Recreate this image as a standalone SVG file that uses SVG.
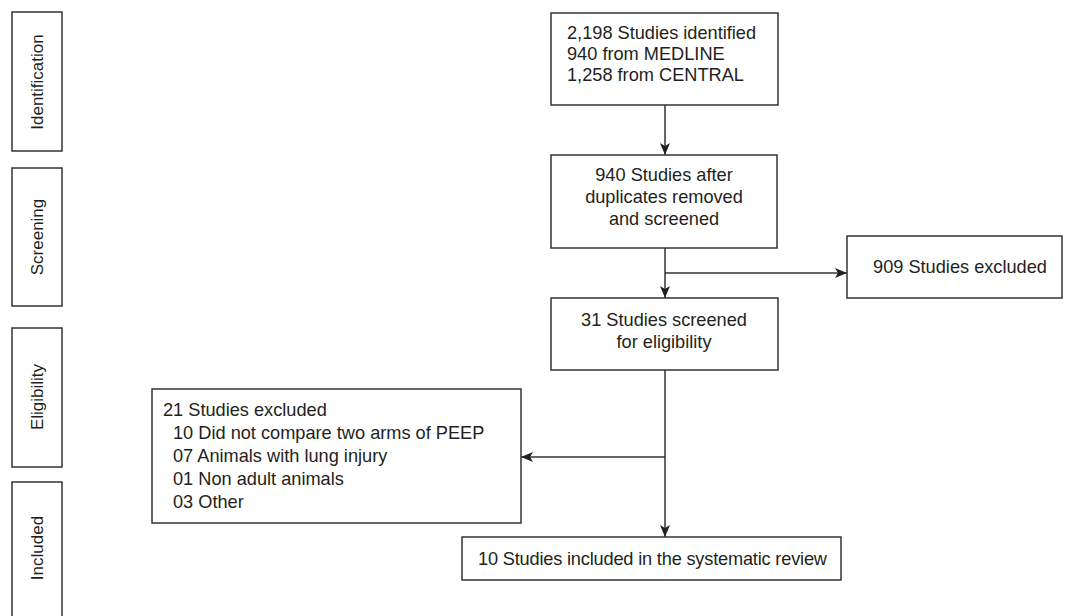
<svg xmlns="http://www.w3.org/2000/svg" width="1066" height="616" viewBox="0 0 1066 616">
<defs>
<style>
.box{fill:#fff;stroke:#333;stroke-width:1.5}
.t{font-family:"Liberation Sans",Arial,sans-serif;font-size:18.2px;fill:#231f20}
.s{font-family:"Liberation Sans",Arial,sans-serif;font-size:17px;fill:#231f20}
.c{text-anchor:middle}
.ln{fill:none;stroke:#333;stroke-width:1.5}
</style>
<marker id="ah" viewBox="0 0 12 10" refX="12" refY="5" markerWidth="12" markerHeight="10" markerUnits="userSpaceOnUse" orient="auto">
<path d="M0,0 L12,5 L0,10 L3,5 Z" fill="#231f20"/>
</marker>
</defs>
<rect width="1066" height="616" fill="#fff"/>
<g id="phase-identification"><rect class="box" x="12" y="12" width="50" height="139"/><text class="s c" transform="translate(43,82) rotate(-90)">Identification</text></g>
<g id="phase-screening"><rect class="box" x="12" y="168" width="50" height="138"/><text class="s c" transform="translate(43,237) rotate(-90)">Screening</text></g>
<g id="phase-eligibility"><rect class="box" x="12" y="328" width="50" height="139"/><text class="s c" transform="translate(43,397) rotate(-90)">Eligibility</text></g>
<g id="phase-included"><rect class="box" x="12" y="482" width="50" height="150"/><text class="s c" transform="translate(43,548) rotate(-90)">Included</text></g>
<g id="connectors">
<line class="ln" x1="665" y1="105" x2="665" y2="155" marker-end="url(#ah)"/>
<line class="ln" x1="665" y1="248" x2="665" y2="298" marker-end="url(#ah)"/>
<line class="ln" x1="665" y1="273" x2="847" y2="273" marker-end="url(#ah)"/>
<line class="ln" x1="665" y1="370" x2="665" y2="537" marker-end="url(#ah)"/>
<line class="ln" x1="665" y1="457" x2="521" y2="457" marker-end="url(#ah)"/>
</g>
<g id="identified"><rect class="box" x="551" y="13" width="227" height="92"/>
<text class="t" x="567" y="39">2,198 Studies identified</text>
<text class="t" x="567" y="60">940 from MEDLINE</text>
<text class="t" x="567" y="81">1,258 from CENTRAL</text></g>
<g id="screened"><rect class="box" x="551" y="155" width="226" height="93"/>
<text class="t c" x="664" y="181">940 Studies after</text>
<text class="t c" x="664" y="203">duplicates removed</text>
<text class="t c" x="664" y="225">and screened</text></g>
<g id="excluded-909"><rect class="box" x="847" y="236" width="215" height="62"/>
<text class="t c" x="960" y="273">909 Studies excluded</text></g>
<g id="eligibility"><rect class="box" x="551" y="298" width="227" height="72"/>
<text class="t c" x="664" y="326">31 Studies screened</text>
<text class="t c" x="664" y="348">for eligibility</text></g>
<g id="excluded-21"><rect class="box" x="152" y="389" width="369" height="134"/>
<text class="t" x="163" y="416">21 Studies excluded</text>
<text class="t" x="173" y="439">10 Did not compare two arms of PEEP</text>
<text class="t" x="173" y="462">07 Animals with lung injury</text>
<text class="t" x="173" y="485">01 Non adult animals</text>
<text class="t" x="173" y="508">03 Other</text></g>
<g id="included"><rect class="box" x="462" y="537" width="379" height="43"/>
<text class="t" x="478" y="565" textLength="349" lengthAdjust="spacing">10 Studies included in the systematic review</text></g>
</svg>
